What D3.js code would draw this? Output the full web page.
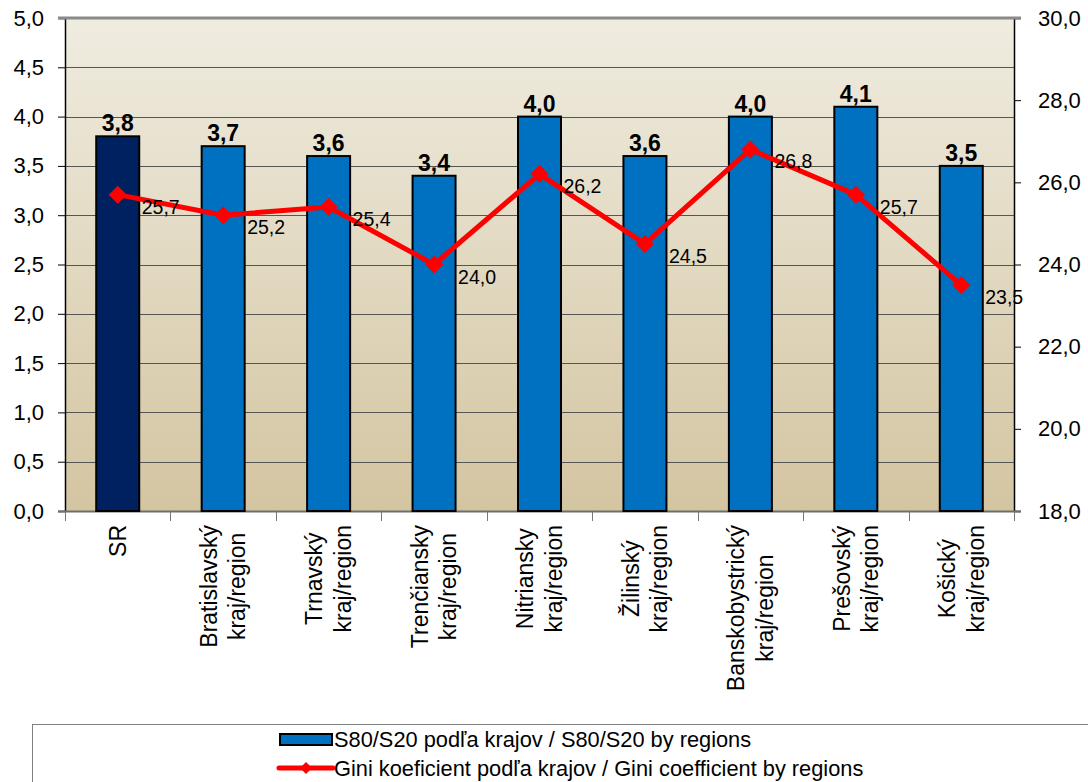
<!DOCTYPE html>
<html>
<head>
<meta charset="utf-8">
<script src="https://cdn.jsdelivr.net/npm/d3@7"></script>
<style>
  html, body { margin: 0; padding: 0; background: #ffffff; }
  svg { display: block; }
  text { font-family: "Liberation Sans", Arial, sans-serif; fill: #000; }
</style>
</head>
<body>
<svg id="chart" width="1088" height="782"></svg>
<script>
// ---- data ----
const categories = [
  "SR",
  "Bratislavský\nkraj/region",
  "Trnavský\nkraj/region",
  "Trenčiansky\nkraj/region",
  "Nitriansky\nkraj/region",
  "Žilinský\nkraj/region",
  "Banskobystrický\nkraj/region",
  "Prešovský\nkraj/region",
  "Košický\nkraj/region"
];
const s80s20 = [3.8, 3.7, 3.6, 3.4, 4.0, 3.6, 4.0, 4.1, 3.5];
const gini = [25.7, 25.2, 25.4, 24.0, 26.2, 24.5, 26.8, 25.7, 23.5];
const leftTicks = [0, 0.5, 1, 1.5, 2, 2.5, 3, 3.5, 4, 4.5, 5];
const rightTicks = [18, 20, 22, 24, 26, 28, 30];
const legendLabels = [
  "S80/S20 podľa krajov / S80/S20 by regions",
  "Gini koeficient podľa krajov / Gini coefficient by regions"
];

// ---- layout ----
const svg = d3.select("#chart");
const L = 65, R = 1014, T = 18, B = 511;
const comma = v => d3.format(".1f")(v).replace(".", ",");

const x = d3.scaleBand().domain(d3.range(categories.length)).range([L, R]).paddingInner(0).paddingOuter(0);
const yL = d3.scaleLinear().domain([0, 5]).range([B, T]);
const yR = d3.scaleLinear().domain([18, 30]).range([B, T]);

// background gradient
const defs = svg.append("defs");
const grad = defs.append("linearGradient").attr("id", "bg").attr("x1", 0).attr("y1", 0).attr("x2", 0).attr("y2", 1);
grad.append("stop").attr("offset", "0%").attr("stop-color", "#efece0");
grad.append("stop").attr("offset", "100%").attr("stop-color", "#d4c5a1");
svg.append("rect").attr("x", L).attr("y", T).attr("width", R - L).attr("height", B - T).attr("fill", "url(#bg)");

// gridlines
svg.append("g").selectAll("line").data(leftTicks.filter(d => d > 0 && d < 5)).join("line")
  .attr("x1", L).attr("x2", R)
  .attr("y1", d => Math.round(yL(d)) + 0.5).attr("y2", d => Math.round(yL(d)) + 0.5)
  .attr("stroke", "#555").attr("stroke-width", 1);

// left axis
const axL = svg.append("g").attr("transform", `translate(${L},0)`)
  .call(d3.axisLeft(yL).tickValues(leftTicks).tickFormat(comma).tickSize(7).tickPadding(14));
axL.select(".domain").attr("stroke", "#000").attr("stroke-width", 1.5);
axL.selectAll(".tick line").attr("stroke", "#000");
axL.selectAll(".tick text").style("font-size", "22px").style("font-family", "Liberation Sans, Arial, sans-serif").attr("fill", "#000");

// right axis
const axR = svg.append("g").attr("transform", `translate(${R},0)`)
  .call(d3.axisRight(yR).tickValues(rightTicks).tickFormat(comma).tickSize(7).tickPadding(17));
axR.select(".domain").attr("stroke", "#000").attr("stroke-width", 1.5);
axR.selectAll(".tick line").attr("stroke", "#000");
axR.selectAll(".tick text").style("font-size", "22px").style("font-family", "Liberation Sans, Arial, sans-serif").attr("fill", "#000");

// top border
svg.append("line").attr("x1", L - 7).attr("x2", R + 7).attr("y1", T).attr("y2", T)
  .attr("stroke", "#8a8a8a").attr("stroke-width", 3);

// bottom axis
const axB = svg.append("g").attr("transform", `translate(0,${B})`)
  .call(d3.axisBottom(x).tickSize(0).tickFormat(""));
axB.select(".domain").remove();
svg.append("line").attr("x1", L - 7).attr("x2", R + 7).attr("y1", B + 0.5).attr("y2", B + 0.5)
  .attr("stroke", "#6e6e6e").attr("stroke-width", 2);
const boundaries = d3.range(categories.length + 1).map(i => i < categories.length ? x(i) : R);
svg.append("g").selectAll("line").data(boundaries).join("line")
  .attr("x1", d => Math.round(d) + 0.5).attr("x2", d => Math.round(d) + 0.5)
  .attr("y1", B).attr("y2", B + 10)
  .attr("stroke", "#777").attr("stroke-width", 1);

// bars
const bw = 43;
svg.append("g").selectAll("rect").data(s80s20).join("rect")
  .attr("x", (d, i) => x(i) + x.bandwidth() / 2 - bw / 2)
  .attr("y", d => yL(d))
  .attr("width", bw)
  .attr("height", d => B - yL(d))
  .attr("fill", (d, i) => i === 0 ? "#00215f" : "#0070c0")
  .attr("stroke", "#000").attr("stroke-width", 2);

// bar value labels
svg.append("g").selectAll("text").data(s80s20).join("text")
  .attr("x", (d, i) => x(i) + x.bandwidth() / 2)
  .attr("y", d => yL(d) - 5)
  .attr("text-anchor", "middle")
  .style("font-size", "23px").style("font-weight", "bold")
  .text(d => comma(d));

// gini line
const line = d3.line().x((d, i) => x(i) + x.bandwidth() / 2).y(d => yR(d));
svg.append("path").datum(gini).attr("d", line)
  .attr("fill", "none").attr("stroke", "#ff0000").attr("stroke-width", 5).attr("stroke-linejoin", "round");
const dsize = 9;
svg.append("g").selectAll("path").data(gini).join("path")
  .attr("transform", (d, i) => `translate(${x(i) + x.bandwidth() / 2},${yR(d)})`)
  .attr("d", `M0,${-dsize}L${dsize},0L0,${dsize}L${-dsize},0Z`)
  .attr("fill", "#ff0000");
svg.append("g").selectAll("text").data(gini).join("text")
  .attr("x", (d, i) => x(i) + x.bandwidth() / 2 + 24)
  .attr("y", d => yR(d) + 19)
  .style("font-size", "19.5px")
  .text(d => comma(d));

// category labels (rotated, multi-line, centred)
const catG = svg.append("g");
categories.forEach((c, i) => {
  const lines = c.split("\n");
  const cx = x(i) + x.bandwidth() / 2;
  const lh = 28.5;
  const g = catG.append("g");
  const texts = lines.map((ln, j) => g.append("text")
    .style("font-size", "23px").attr("text-anchor", "middle").text(ln));
  const maxLen = d3.max(texts, t => t.node().getComputedTextLength());
  const yc = 525 + maxLen / 2;
  texts.forEach((t, j) => {
    const off = (j - (lines.length - 1) / 2) * lh;
    const xx = cx + off + 8;
    t.attr("transform", `translate(${xx},${yc}) rotate(-90)`).attr("x", 0).attr("y", 0);
  });
});

// legend
svg.append("rect").attr("x", 32.5).attr("y", 724.5).attr("width", 1100).attr("height", 100)
  .attr("fill", "#fff").attr("stroke", "#808080").attr("stroke-width", 1);
svg.append("rect").attr("x", 280).attr("y", 734).attr("width", 52).attr("height", 11)
  .attr("fill", "#0070c0").attr("stroke", "#000").attr("stroke-width", 2);
svg.append("line").attr("x1", 279).attr("x2", 333).attr("y1", 768).attr("y2", 768)
  .attr("stroke", "#ff0000").attr("stroke-width", 5).attr("stroke-linecap", "round");
svg.append("path").attr("transform", "translate(306,768)")
  .attr("d", "M0,-6L6,0L0,6L-6,0Z").attr("fill", "#ff0000");
svg.append("g").selectAll("text").data(legendLabels).join("text")
  .attr("x", 334).attr("y", (d, i) => 747 + i * 29)
  .style("font-size", "21.8px")
  .text(d => d);
</script>
</body>
</html>
